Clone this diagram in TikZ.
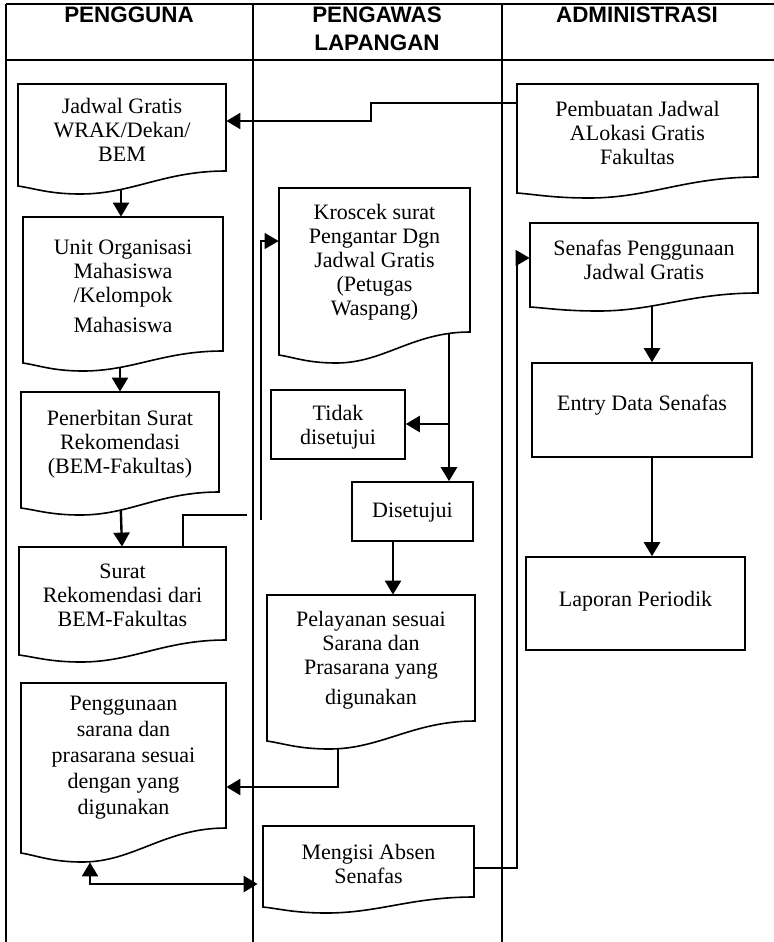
\documentclass[tikz,border=0pt]{standalone}
\usepackage{fontspec}
\setmainfont{Liberation Serif}
\setsansfont{Liberation Sans}
\usetikzlibrary{arrows.meta,fit,backgrounds}

% Document-shaped box: name, left, top, right, y of left foot, y of lowest point, y of right foot, text
\newcommand\docbox[8]{%
  \draw[boxline] (#2,#3) -- (#4,#3) -- (#4,#7)
    .. controls ({#4-0.3*(#4-#2)},#7) and ({#2+0.55*(#4-#2)},#6) .. ({#2+0.3*(#4-#2)},#6)
    .. controls ({#2+0.15*(#4-#2)},#6) and ({#2+0.08*(#4-#2)},{#5+0.3*(#6-#5)}) .. (#2,#5) -- cycle;
  \node[fit={(#2,#3) (#4,#6)}, inner sep=0pt] (#1) {};
  \node[txt] (#1-txt) at ({(#2+#4)/2},{(#3+#7)/2+2}) {#8};
}
% Process box: name, left, top, right, bottom, text, text centre y
\newcommand\procbox[7]{%
  \node[boxline, fit={(#2,#3) (#4,#5)}, inner sep=0pt] (#1) {};
  \node[txt] (#1-txt) at ({(#2+#4)/2},#7) {#6};
}

\begin{document}
\begin{tikzpicture}[x=0.5pt,y=-0.5pt,
  frame/.style={line width=1pt},
  boxline/.style={draw=black, line width=0.8pt, fill=white},
  txt/.style={font=\fontsize{11pt}{12pt}\selectfont, align=center, inner sep=0pt},
  hdr/.style={font=\sffamily\bfseries\fontsize{11.2pt}{14pt}\selectfont, align=center, inner sep=0pt},
  tip/.tip={Triangle[width=8pt,length=7pt]},
  flow/.style={line width=1.2pt, -tip},
  thinflow/.style={line width=0.6pt, -tip},
  thinline/.style={line width=0.6pt},
  bothflow/.style={line width=1.2pt, tip-tip},
]
\useasboundingbox (0,0) rectangle (774,942);

% swimlane frame
\draw[frame] (6,4) -- (774,4);
\draw[frame] (6,60) -- (774,60);
\draw[frame] (6,4) -- (6,942);
\draw[frame] (253,4) -- (253,942);
\draw[frame] (502,4) -- (502,942);

% lane titles
\node[hdr] (h-pengguna) at (129,15) {PENGGUNA};
\node[hdr] (h-pengawas) at (377,29) {PENGAWAS\\LAPANGAN};
\node[hdr] (h-admin) at (637,15) {ADMINISTRASI};

% PENGGUNA lane
\docbox{jadwal}{18}{84}{226}{186}{194}{171}{Jadwal Gratis\\WRAK/Dekan/\\BEM}
\docbox{unit}{23}{217}{223}{363}{371}{351}{Unit Organisasi\\Mahasiswa\\/Kelompok\\[3pt]Mahasiswa}
\docbox{terbit}{21}{392}{219}{508}{515}{492}{Penerbitan Surat\\Rekomendasi\\(BEM-Fakultas)}
\docbox{surat}{19}{547}{226}{655}{662}{640}{Surat\\Rekomendasi dari\\BEM-Fakultas}
\docbox{penggunaan}{21}{683}{226}{853}{862}{828}{Penggunaan\\[1pt]sarana dan\\[1pt]prasarana sesuai\\[1pt]dengan yang\\[1pt]digunakan}

% PENGAWAS LAPANGAN lane
\docbox{kroscek}{279}{188}{470}{355}{363}{332}{Kroscek surat\\Pengantar Dgn\\Jadwal Gratis\\(Petugas\\Waspang)}
\procbox{tidak}{271}{390}{405}{459}{Tidak\\disetujui}{427}
\procbox{disetujui}{352}{482}{473}{541}{Disetujui}{513}
\docbox{pelayanan}{267}{595}{475}{741}{749}{721}{Pelayanan sesuai\\Sarana dan\\Prasarana yang\\[3pt]digunakan}
\docbox{mengisi}{263}{826}{474}{907}{913}{897}{Mengisi Absen\\Senafas}

% ADMINISTRASI lane
\docbox{pembuatan}{517}{84}{758}{193}{198}{177}{Pembuatan Jadwal\\ALokasi Gratis\\Fakultas}
\docbox{senafas}{530}{223}{758}{307}{311}{293}{Senafas Penggunaan\\Jadwal Gratis}
\procbox{entry}{532}{363}{752}{457}{Entry Data Senafas}{405}
\procbox{laporan}{526}{557}{745}{650}{Laporan Periodik}{601}

% connectors, kept behind the boxes
\begin{pgfonlayer}{background}
\draw[flow] (pembuatan.west |- 0,103) -- (371,103) -- (371,121) -- (jadwal.east |- 0,121);
\draw[flow] (jadwal.center -| 121,0) -- (unit.north -| 121,0);
\draw[flow] (unit.center -| 120,0) -- (terbit.north -| 120,0);
\draw[flow] (terbit.center -| 119,0) -- (surat.north -| 122,0);
\draw[thinline] (surat.north -| 183,0) -- (183,515) -- (247,515);
\coordinate (loopfoot) at (261,520);
\draw[thinflow] (loopfoot) -- (261,241) -- (kroscek.west |- 0,241);
\draw[flow] (kroscek.center -| 449,0) -- (disetujui.north -| 449,0);
\coordinate (split) at (449,424);
\draw[flow] (split) -- (tidak.east |- split);
\draw[flow] (disetujui.south -| 393,0) -- (pelayanan.north -| 393,0);
\draw[flow] (pelayanan.center -| 338,0) -- (338,787) -- (penggunaan.east |- 0,787);
\draw[thinflow] (mengisi.east |- 0,868) -- (517,868) -- (517,258) -- (senafas.west |- 0,258);
\draw[flow] (senafas.center -| 652,0) -- (entry.north -| 652,0);
\draw[flow] (entry.south -| 652,0) -- (laporan.north -| 652,0);
\end{pgfonlayer}
\draw[bothflow, shorten >=2.5pt] (penggunaan.south -| 90,0) -- (90,884) -- (mengisi.west |- 0,884);
\end{tikzpicture}
\end{document}
